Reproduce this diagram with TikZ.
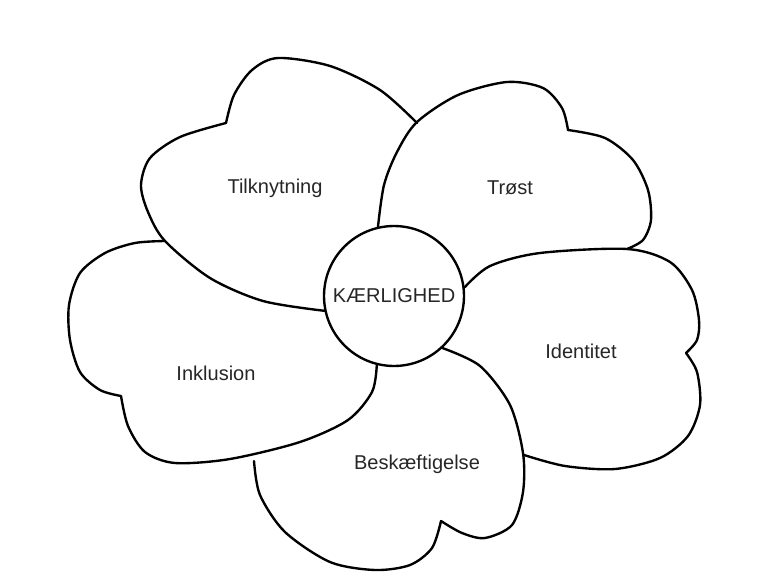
\documentclass[tikz,border=0pt]{standalone}
\usepackage{fontspec}
\setmainfont{Liberation Sans}
\usepackage{tikz}

\begin{document}
\begin{tikzpicture}[x=0.02cm, y=-0.02cm,
		petal/.style={line width=1.35pt, line join=round, line cap=round},
		petaltext/.style={anchor=base, text=black!85, font=\fontsize{11.4}{13}\selectfont}]
			%%%%% START %%%%%
			\useasboundingbox (0,0) rectangle (784,588);
			
			\node[draw, circle, line width=1.35pt, minimum size=2.8cm, inner sep=0pt, text=black!85, font=\fontsize{11.4}{13}\selectfont] (kaerlighed) at (394,296) {KÆRLIGHED};
			
			% Tilknytning
			\draw[petal] plot[smooth] coordinates {(kaerlighed.192) (263,301) (210,278) (165,241) (148,212) (141,185) (150,158) (180,137) (226,123)};
			\draw[petal] plot[smooth] coordinates {(226,123) (234,95) (252,70) (278,58) (330,66) (380,90) (417,123)};
			\node[petaltext] (tilknytning) at (275,193) {Tilknytning};
			
			% Trøst
			\draw[petal] plot[smooth] coordinates {(kaerlighed.103) (384,185) (397,152) (417,122) (458,95) (507,82) (543,88) (562,108) (568,130)};
			\draw[petal] plot[smooth] coordinates {(568,130) (605,138) (633,160) (648,190) (651,220) (643,240) (627,249)};
			\node[petaltext] (troest) at (510,194) {Trøst};
			
			% Identitet
			\draw[petal] plot[smooth] coordinates {(kaerlighed.7) (490,266) (540,253) (627,249) (670,262) (692,290) (699,320) (697,340) (686,353)};
			\draw[petal] plot[smooth] coordinates {(686,353) (697,372) (700,405) (688,436) (660,458) (615,469) (565,466) (524,455)};
			\node[petaltext] (identitet) at (581,358) {Identitet};
			
			% Beskæftigelse
			\draw[petal] plot[smooth] coordinates {(kaerlighed.313) (480,366) (510,405) (523,453) (523,492) (512,525) (485,538) (462,533) (441,521)};
			\draw[petal] plot[smooth] coordinates {(441,521) (432,548) (410,565) (375,570) (330,562) (285,532) (260,495) (254,461)};
			\node[petaltext] (beskaeftigelse) at (417,469) {Beskæftigelse};
			
			% Inklusion
			\draw[petal] plot[smooth] coordinates {(kaerlighed.256) (372,392) (348,420) (300,442) (230,459) (175,463) (145,452) (128,426) (121,396)};
			\draw[petal] plot[smooth] coordinates {(121,396) (100,390) (80,372) (70,340) (69,305) (80,273) (105,253) (135,243) (165,241)};
			\node[petaltext] (inklusion) at (216,380) {Inklusion};
			
			%%%%% END %%%%%
		\end{tikzpicture}
\end{document}
